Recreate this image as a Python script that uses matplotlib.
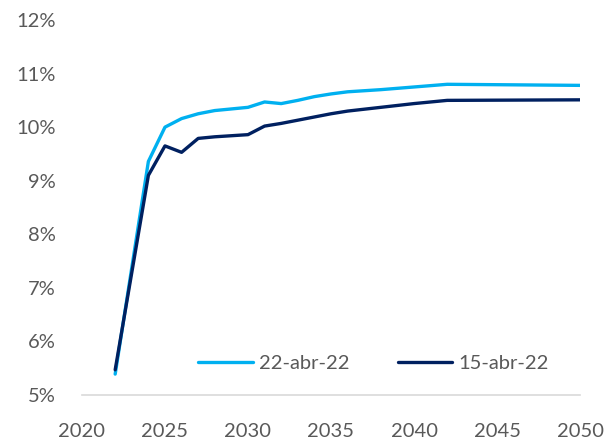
import matplotlib
matplotlib.use('Agg')
import matplotlib.pyplot as plt
from matplotlib.ticker import FuncFormatter

# Curve values (% per year) for two dates
years = [2022, 2024, 2025, 2026, 2027, 2028, 2029, 2030, 2031, 2032, 2033,
         2034, 2035, 2036, 2038, 2040, 2042, 2050]
curve_22abr = [5.39, 9.36, 10.0, 10.16, 10.25, 10.31, 10.34, 10.37, 10.47, 10.44,
               10.50, 10.57, 10.62, 10.66, 10.70, 10.75, 10.80, 10.78]
curve_15abr = [5.47, 9.10, 9.65, 9.53, 9.79, 9.82, 9.84, 9.86, 10.02, 10.07, 10.13,
               10.19, 10.25, 10.30, 10.37, 10.44, 10.50, 10.51]
labels = ['22-abr-22', '15-abr-22']
colors = ['#00b0f0', '#002060']

plt.rcParams['font.family'] = ['Lato', 'DejaVu Sans']
text_color = '#595959'

fig = plt.figure(figsize=(6.05, 4.4), dpi=100)
ax = fig.add_axes([0.1355, 0.1023, 0.8232, 0.8522])

ax.plot(years, curve_22abr, color=colors[0], lw=2.4, label=labels[0], solid_capstyle='round')
ax.plot(years, curve_15abr, color=colors[1], lw=2.4, label=labels[1], solid_capstyle='round')

ax.set_xlim(2020, 2050)
ax.set_ylim(5, 12)
ax.set_xticks(range(2020, 2051, 5))
ax.set_yticks(range(5, 13))
ax.yaxis.set_major_formatter(FuncFormatter(lambda v, p: f'{v:.0f}%'))

for s in ['top', 'right', 'left']:
    ax.spines[s].set_visible(False)
ax.spines['bottom'].set_color('#d9d9d9')
ax.spines['bottom'].set_linewidth(1.2)
ax.spines['bottom'].set_bounds(2020, 2050)

ax.tick_params(axis='both', length=0, labelsize=14.5, labelcolor=text_color)
ax.tick_params(axis='x', pad=20)
ax.tick_params(axis='y', pad=19)

leg = ax.legend(loc='lower right', bbox_to_anchor=(0.973, 0.012), ncol=2, frameon=False,
                fontsize=14.5, handlelength=2.7, handletextpad=0.3, columnspacing=2.4,
                labelcolor=text_color)

fig.savefig('out.png', dpi=100)
